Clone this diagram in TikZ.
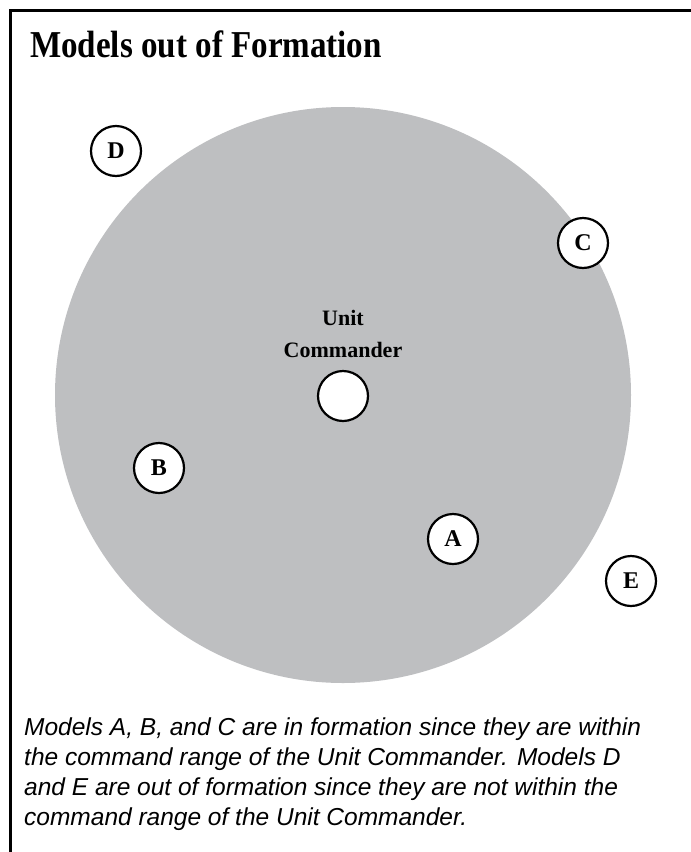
\documentclass[tikz,border=0pt]{standalone}
\usepackage{fontspec}
\setmainfont{Liberation Serif}
\newfontfamily\titlefont[FakeStretch=0.87]{Liberation Serif}
\newfontfamily\capfont{Liberation Sans}
\definecolor{rangegray}{RGB}{190,191,193}
\begin{document}
\begin{tikzpicture}[
  x=1pt,
  y=-1pt,
  model/.style={
    circle,
    draw,
    line width=2.2pt,
    fill=white,
    minimum size=50pt,
    inner sep=0pt,
    font=\fontsize{24}{24}\selectfont\bfseries
  },
  every node/.append style={inner sep=0pt}
]
\useasboundingbox (0,0) rectangle (691,852);
\draw[line width=3pt] (10,852) -- (10,10) -- (691,10);
\fill[rangegray] (343,395) circle[radius=288pt];

\node[anchor=base west, font=\titlefont\fontsize{38}{38}\selectfont\bfseries] (title) at (30,57) {Models out of Formation};
\node[align=center, font=\fontsize{22}{32}\selectfont\bfseries] (label) at (343,334) {Unit\\ Commander};

\node[model] (cmd) at (343,396) {};
\node[model] (a) at (453,539) {A};
\node[model] (b) at (159,468) {B};
\node[model] (c) at (583,243) {C};
\node[model] (d) at (116,151) {D};
\node[model] (e) at (631,581) {E};

\node[anchor=north west, align=left, font=\capfont\itshape\fontsize{24.5}{30}\selectfont] (note) at (24,718) {Models A, B, and C are in formation since they are within\\ the command range of the Unit Commander. Models D\\ and E are out of formation since they are not within the\\ command range of the Unit Commander.};
\end{tikzpicture}
\end{document}
